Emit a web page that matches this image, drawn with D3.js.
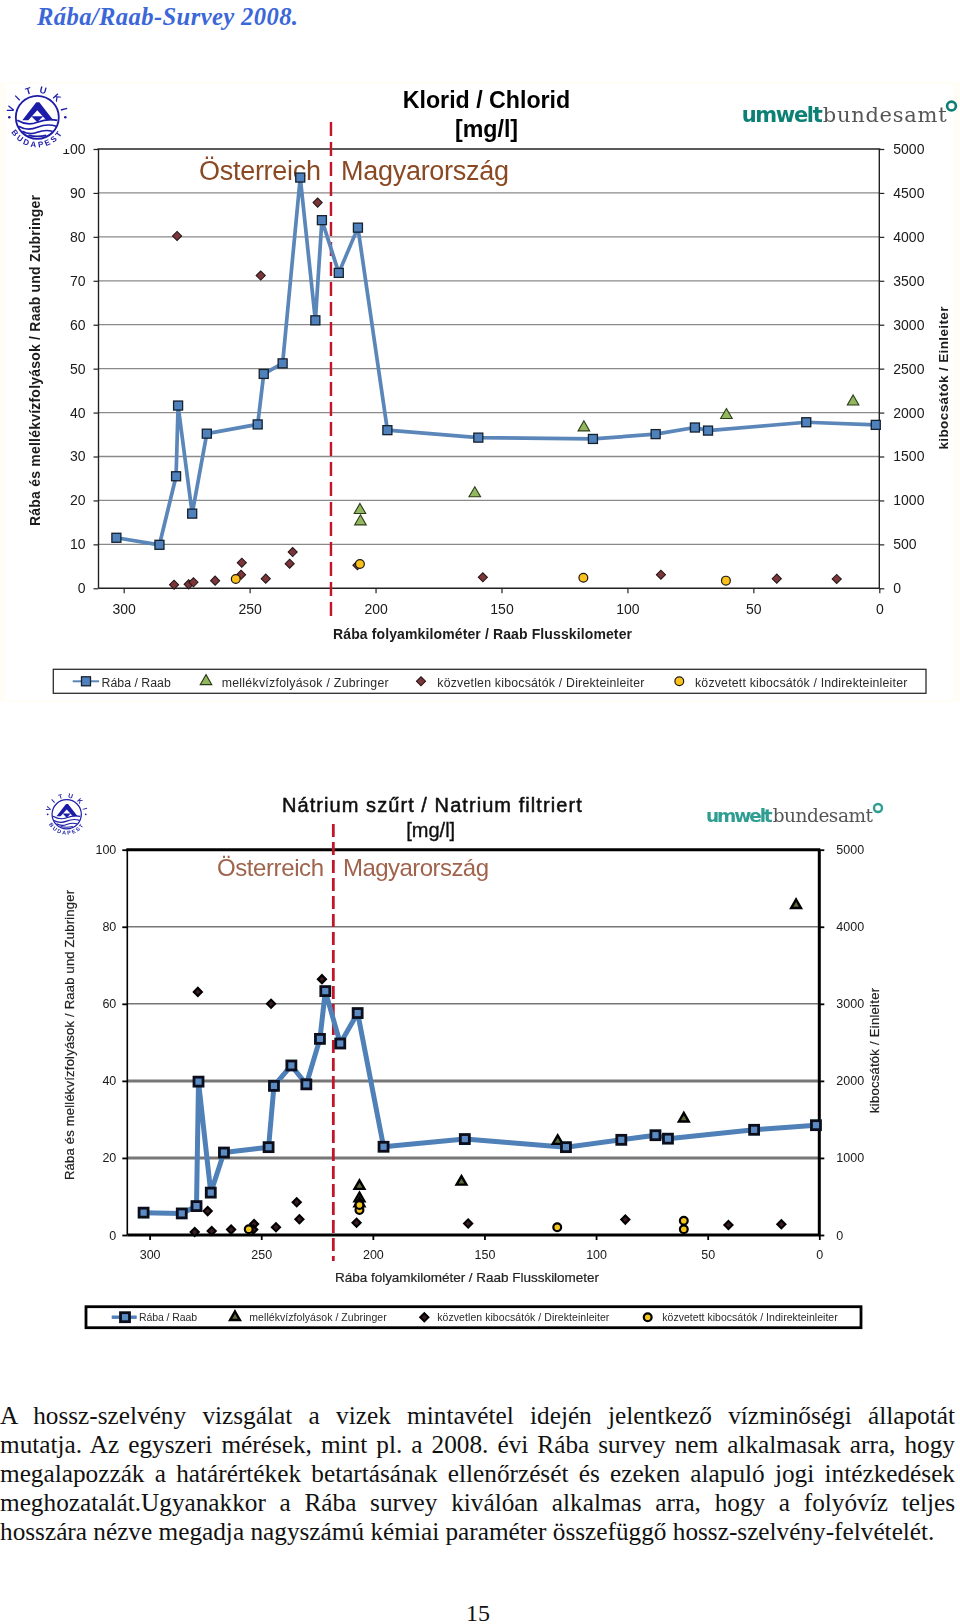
<!DOCTYPE html>
<html><head><meta charset="utf-8">
<script src="https://cdn.jsdelivr.net/npm/d3@7"></script>
<style>html,body{margin:0;padding:0;background:#fff}svg{display:block}text{font-family:"Liberation Sans",Arial,sans-serif}</style>
</head><body><div id="c"></div>
<script>
// ---------- data: [river km, value] ----------
const leftTicks = [0,10,20,30,40,50,60,70,80,90,100];
const rightTicks = [0,500,1000,1500,2000,2500,3000,3500,4000,4500,5000];
const leftTicks2 = [0,20,40,60,80,100];
const rightTicks2 = [0,1000,2000,3000,4000,5000];
const kmTicks = [300,250,200,150,100,50,0];
const borderKm = 217.7;

const chlorRaba = [[302.9,11.5],[285.8,9.9],[279.2,25.5],[278.4,41.6],[272.8,17],[267,35.2],[246.8,37.3],[244.4,48.8],[236.9,51.2],[229.9,93.5],[223.9,61],[221.3,83.8],[214.6,71.8],[207,82.1],[195.3,36],[159.2,34.3],[113.7,34],[88.8,35.1],[73.2,36.6],[68,35.9],[29,37.8],[1.4,37.2]];
const chlorTrib = [[206.2,17.8],[206,15.2],[160.6,21.6],[117.3,36.6],[60.7,39.4],[10.4,42.5]];
const chlorDirect = [[278.8,4010],[245.6,3560],[223,4390],[280,41],[274.2,45],[272.3,68],[263.7,87],[253.4,155],[253.1,291],[243.6,110],[234.1,280],[232.9,413],[207.2,262],[157.4,125],[86.7,155],[40.7,110],[16.9,106]];
const chlorIndirect = [[255.5,106],[206.2,277],[117.5,120],[60.9,87]];

const naRaba = [[302.7,5.8],[285.6,5.6],[279,7.5],[278.1,39.8],[272.6,11],[266.7,21.4],[246.7,22.8],[244.3,38.7],[236.5,44],[229.8,39.1],[223.7,50.9],[221.3,63.3],[214.6,49.7],[206.8,57.6],[195.2,22.9],[158.8,24.9],[113.5,22.8],[88.7,24.7],[73.4,25.9],[67.8,25],[29.2,27.3],[1.5,28.5]];
const naTrib = [[206,12.7],[206,9.5],[206,8.2],[160.3,13.8],[117.2,24.4],[60.7,30.2],[10.4,85.6]];
const naDirect = [[278.4,3155],[245.6,3000],[222.8,3320],[279.8,40],[274,310],[272.2,52],[263.5,70],[253.2,142],[253.6,70],[243.4,100],[234.1,425],[232.9,205],[207.3,160],[157.3,150],[86.9,200],[40.7,130],[17,140]];
const naIndirect = [[255.6,75],[206,325],[206,390],[117.4,100],[60.7,185],[60.7,75]];

const titleText = "Rába/Raab-Survey 2008.";
const bodyLines = [
 "A hossz-szelvény vizsgálat a vizek mintavétel idején jelentkező vízminőségi állapotát",
 "mutatja. Az egyszeri mérések, mint pl. a 2008. évi Rába survey nem alkalmasak arra, hogy",
 "megalapozzák a határértékek betartásának ellenőrzését és ezeken alapuló jogi intézkedések",
 "meghozatalát.Ugyanakkor a Rába survey kiválóan alkalmas arra, hogy a folyóvíz teljes",
 "hosszára nézve megadja nagyszámú kémiai paraméter összefüggő hossz-szelvény-felvételét."
];
const leftTitle = "Rába és mellékvízfolyások / Raab und Zubringer";
const rightTitle = "kibocsátók / Einleiter";
const xTitle = "Rába folyamkilométer / Raab Flusskilometer";
const legendLabels = ["Rába / Raab","mellékvízfolyások / Zubringer","közvetlen kibocsátók / Direkteinleiter","közvetett kibocsátók / Indirekteinleiter"];

const svg = d3.select("#c").append("svg").attr("width",960).attr("height",1624).attr("viewBox","0 0 960 1624");
const defs = svg.append("defs");
defs.append("filter").attr("id","soft").attr("x","-2%").attr("y","-2%").attr("width","104%").attr("height","104%").append("feGaussianBlur").attr("stdDeviation",0.25);
defs.append("filter").attr("id","soft2").attr("x","-2%").attr("y","-2%").attr("width","104%").attr("height","104%").append("feGaussianBlur").attr("stdDeviation",0.4);

// page furniture
svg.append("rect").attr("width",960).attr("height",1624).attr("fill","#fff");
svg.append("rect").attr("x",0).attr("y",82).attr("width",960).attr("height",620).attr("fill","#fffdf6");
svg.append("rect").attr("x",6).attr("y",84).attr("width",947).attr("height",616).attr("fill","#fff");
svg.append("text").attr("x",37).attr("y",25).text(titleText)
  .style("font-family","'Liberation Serif',serif").style("font-weight","bold").style("font-style","italic")
  .style("font-size","24.6px").attr("fill","#3b67d8").attr("textLength",261);

function txt(g,s,x,y,o={}){
  const t=g.append("text").attr("x",x).attr("y",y).text(s)
    .style("font-size",(o.size||14)+"px").style("font-weight",o.weight||"normal")
    .attr("fill",o.fill||"#1a1a1a").attr("text-anchor",o.anchor||"start");
  if(o.len) t.attr("textLength",o.len);
  if(o.stroke) t.attr("stroke",o.fill||"#1a1a1a").attr("stroke-width",o.stroke);
  if(o.rot) t.attr("transform",`rotate(${o.rot} ${x} ${y})`);
  return t;
}

function vituki(g,cx,cy,s,uid){
  const n=g.append("g").attr("transform",`translate(${cx},${cy}) scale(${s})`);
  const navy="#1c1ca8";
  n.append("circle").attr("r",21.5).attr("fill","#fff").attr("stroke",navy).attr("stroke-width",1.8);
  n.append("path").attr("d","M-15,3 L-1,-15 L2,-15 L16,3 L9,3 L0,-7 L-9,3 Z").attr("fill",navy);
  n.append("path").attr("d","M-6,-1 L6,-1 L0,5 Z").attr("fill",navy);
  ["M-20,3 Q-10,9 0,5 T20,3","M-19,9 Q-10,14 0,10 T19,9","M-15,14 Q-8,18 0,15 T15,14","M-9,18 Q0,20 9,18"].forEach(d=>
    n.append("path").attr("d",d).attr("fill","none").attr("stroke",navy).attr("stroke-width",1.7));
  defs.append("path").attr("id","top"+uid).attr("d","M-24.5,0 A24.5,24.5 0 0 1 24.5,0");
  defs.append("path").attr("id","bot"+uid).attr("d","M-30,0 A30,30 0 0 0 30,0");
  n.append("text").append("textPath").attr("href","#top"+uid).attr("startOffset","50%").attr("text-anchor","middle").text("V I T U K I")
    .style("font-size","9.5px").style("font-weight","bold").style("letter-spacing","2.2px").attr("fill",navy);
  n.append("text").append("textPath").attr("href","#bot"+uid).attr("startOffset","50%").attr("text-anchor","middle").text("BUDAPEST")
    .style("font-size","8px").style("font-weight","bold").style("letter-spacing","2.4px").attr("fill",navy);
  [-28,28].forEach(x=>n.append("circle").attr("cx",x).attr("cy",0).attr("r",1.3).attr("fill",navy));
}

function umwelt(g,o){
  g.append("text").attr("x",o.x).attr("y",o.y).text("umwelt").attr("textLength",o.w1)
    .style("font-family","'DejaVu Sans',sans-serif").style("font-weight","bold").style("font-size",o.size+"px").attr("fill",o.teal);
  g.append("text").attr("x",o.x+o.w1).attr("y",o.y).text("bundesamt").attr("textLength",o.w2)
    .style("font-family","'DejaVu Serif',serif").style("font-size",o.size+"px").attr("fill","#555");
  g.append("circle").attr("cx",o.cx).attr("cy",o.cy).attr("r",o.r).attr("fill","none").attr("stroke",o.teal).attr("stroke-width",o.r*0.6);
}

function chart(c){
  const g=svg.append("g").attr("filter",`url(#${c.filter})`);
  const x=d3.scaleLinear().domain([310,0]).range([c.l,c.r]);
  const y=d3.scaleLinear().domain([0,100]).range([c.b,c.t]);
  const y2=d3.scaleLinear().domain([0,5000]).range([c.b,c.t]);

  // gridlines
  g.append("g").selectAll("line").data(c.lTicks.filter(d=>d>0&&d<100)).join("line")
    .attr("x1",c.l).attr("x2",c.r).attr("y1",d=>y(d)).attr("y2",d=>y(d))
    .attr("stroke",c.grid).attr("stroke-width",d=>c.thick&&c.thick.includes(d)?3:c.gridW);
  g.append("line").attr("x1",c.l-1).attr("x2",c.r+1).attr("y1",c.t).attr("y2",c.t).attr("stroke",c.axis).attr("stroke-width",c.topW);

  // axes
  const fmt=d3.format("d");
  const la=g.append("g").attr("transform",`translate(${c.l},0)`).call(d3.axisLeft(y).tickValues(c.lTicks).tickSize(c.tick).tickPadding(c.pad).tickFormat(fmt));
  const ra=g.append("g").attr("transform",`translate(${c.r},0)`).call(d3.axisRight(y2).tickValues(c.rTicks).tickSize(c.tick).tickPadding(c.padR).tickFormat(fmt));
  const ba=g.append("g").attr("transform",`translate(0,${c.b})`).call(d3.axisBottom(x).tickValues(kmTicks).tickSize(c.tick).tickPadding(c.padB).tickFormat(fmt));
  [la,ra,ba].forEach(a=>{a.attr("font-family",null).attr("font-size",null);
    a.selectAll("text").style("font-size",c.tickFont+"px").attr("fill","#1a1a1a");
    a.selectAll("line").attr("stroke",c.axis).attr("stroke-width",c.tickW);});
  la.select(".domain").attr("stroke",c.axis).attr("stroke-width",c.lW).attr("d",`M0,${c.t}V${c.b}`);
  ra.select(".domain").attr("stroke",c.axis).attr("stroke-width",c.rW).attr("d",`M0,${c.t}V${c.b}`);
  ba.select(".domain").attr("stroke",c.axis).attr("stroke-width",c.bW).attr("d",`M${c.l},0H${c.r}`);

  // titles
  c.title.forEach(t=>txt(g,t.s,t.x,t.y,t));
  txt(g,"Österreich",c.at.x,c.at.y,{size:c.at.size,fill:c.at.fill,len:c.at.len});
  txt(g,"Magyarország",c.hu.x,c.hu.y,{size:c.hu.size,fill:c.hu.fill,len:c.hu.len});
  txt(g,leftTitle,c.lt.x,c.lt.y,{...c.lt,rot:-90,anchor:"middle"});
  txt(g,rightTitle,c.rt.x,c.rt.y,{...c.rt,rot:-90,anchor:"middle"});
  txt(g,xTitle,c.xt.x,c.xt.y,c.xt);

  // border line
  g.append("line").attr("x1",x(borderKm)).attr("x2",x(borderKm)).attr("y1",c.bt).attr("y2",c.bb)
    .attr("stroke","#c1182c").attr("stroke-width",c.borderW).attr("stroke-dasharray",c.dash);

  const m=c.mark;
  const line=d3.line().x(d=>x(d[0])).y(d=>y(d[1]));
  g.append("path").datum(c.raba).attr("d",line).attr("fill","none").attr("stroke",m.line).attr("stroke-width",m.lineW).attr("stroke-linejoin","round");

  const tri=d3.symbol().type(d3.symbolTriangle).size(m.triSize)();
  const dia=d3.symbol().type(d3.symbolSquare).size(m.diaSize)();
  const drawTri=(sel)=>sel.attr("d",tri).attr("fill",m.triFill).attr("stroke",m.triStroke).attr("stroke-width",m.triW);
  const drawDia=(sel)=>sel.attr("d",dia).attr("fill",m.diaFill).attr("stroke",m.diaStroke).attr("stroke-width",m.diaW);
  const drawSq=(sel)=>sel.attr("fill",m.sqFill).attr("stroke",m.sqStroke).attr("stroke-width",m.sqW).attr("width",m.sq).attr("height",m.sq);
  const drawCirc=(sel)=>sel.attr("r",m.r).attr("fill",m.cFill).attr("stroke",m.cStroke).attr("stroke-width",m.cW);

  g.append("g").selectAll("path").data(c.trib).join("path").call(drawTri).attr("transform",d=>`translate(${x(d[0])},${y(d[1])})`);
  g.append("g").selectAll("path").data(c.direct).join("path").call(drawDia).attr("transform",d=>`translate(${x(d[0])},${y2(d[1])}) rotate(45)`);
  g.append("g").selectAll("circle").data(c.indirect).join("circle").call(drawCirc).attr("cx",d=>x(d[0])).attr("cy",d=>y2(d[1]));
  g.append("g").selectAll("rect").data(c.raba).join("rect").call(drawSq).attr("x",d=>x(d[0])-m.sq/2).attr("y",d=>y(d[1])-m.sq/2);

  // legend
  const L=c.legend;
  g.append("rect").attr("x",L.x0).attr("y",L.y0).attr("width",L.x1-L.x0).attr("height",L.y1-L.y0).attr("fill","#fff").attr("stroke",c.axis==="#000"?"#000":"#2d2d2d").attr("stroke-width",L.w);
  const ly=(L.y0+L.y1)/2;
  g.append("line").attr("x1",L.line[0]).attr("x2",L.line[1]).attr("y1",ly).attr("y2",ly).attr("stroke",m.line).attr("stroke-width",L.lineW);
  g.append("rect").call(drawSq).attr("x",L.marks[0]-m.sq/2).attr("y",ly-m.sq/2);
  g.append("path").call(drawTri).attr("transform",`translate(${L.marks[1]},${ly})`);
  g.append("path").call(drawDia).attr("transform",`translate(${L.marks[2]},${ly}) rotate(45)`);
  g.append("circle").call(drawCirc).attr("cx",L.marks[3]).attr("cy",ly);
  legendLabels.forEach((s,i)=>txt(g,s,L.tx[i],L.base,{size:L.size,len:L.tw[i],fill:"#2a2a2a"}));

  // logos
  if(c.mask) g.append("rect").attr("x",c.mask[0]).attr("y",c.mask[1]).attr("width",c.mask[2]).attr("height",c.mask[3]).attr("fill","#fff");
  vituki(g,c.vit.x,c.vit.y,c.vit.s,c.vit.id);
  umwelt(g,c.umw);
}

chart({
  filter:"soft",l:98.5,r:879.3,t:149,b:588.3,axis:"#222",lTicks:leftTicks,rTicks:rightTicks,thick:null,grid:"#8a8a8a",gridW:1.3,
  tick:5,pad:8,padR:9,padB:11,tickFont:14,tickW:1.2,lW:1.4,rW:1.4,bW:1.6,topW:1.6,
  raba:chlorRaba,trib:chlorTrib,direct:chlorDirect,indirect:chlorIndirect,
  title:[{s:"Klorid / Chlorid",x:486.5,y:108,anchor:"middle",size:23.2,weight:"bold",fill:"#000"},{s:"[mg/l]",x:486.5,y:137,anchor:"middle",size:23.2,weight:"bold",fill:"#000"}],
  at:{x:199,y:180,size:27,fill:"#8a4a24",len:122},hu:{x:341,y:180,size:27,fill:"#8a4a24",len:168},
  lt:{x:40,y:360.5,size:14,weight:"bold",len:331},rt:{x:948,y:378,size:13.5,weight:"bold",len:143},
  xt:{x:333,y:639,size:14,weight:"bold",len:299},
  bt:122,bb:616,borderW:2.4,dash:"14 6",
  mark:{line:"#5a86b9",lineW:3.7,sq:9,sqFill:"#4f81bd",sqStroke:"#15202e",sqW:1.3,
    triSize:58,triFill:"#92b75e",triStroke:"#2c3d18",triW:1.1,diaSize:42,diaFill:"#7b3438",diaStroke:"#1f1416",diaW:1,
    r:4.4,cFill:"#fcc01a",cStroke:"#1e1a10",cW:1.2},
  legend:{x0:53.3,x1:926,y0:669.3,y1:693.3,w:1.3,lineW:2,line:[72.7,99],marks:[86,206,421,679.3],base:686.6,size:12.3,
    tx:[101.5,221.7,437.3,695],tw:[69.3,167,207,212.3]},
  mask:[6,84,62,65],vit:{x:37.3,y:117.3,s:1,id:"a"},
  umw:{x:741.7,y:121.5,size:21,w1:81,w2:124,cx:951.5,cy:106,r:4.4,teal:"#0f8074"}
});

chart({
  filter:"soft2",l:127.3,r:819.3,t:849.7,b:1235,axis:"#000",lTicks:leftTicks2,rTicks:rightTicks2,thick:[20,40],grid:"#777",gridW:1.5,
  tick:5,pad:6,padR:12,padB:10,tickFont:12.5,tickW:1.8,lW:1.6,rW:3,bW:2.8,topW:3,
  raba:naRaba,trib:naTrib,direct:naDirect,indirect:naIndirect,
  title:[{s:"Nátrium szűrt / Natrium filtriert",x:282,y:812.3,size:20,fill:"#111",stroke:0.5,len:299.7},{s:"[mg/l]",x:430.7,y:837,anchor:"middle",size:20,fill:"#111",stroke:0.35}],
  at:{x:217,y:876,size:24,fill:"#a0644c",len:107},hu:{x:343,y:876,size:24,fill:"#a0644c",len:146},
  lt:{x:74,y:1035,size:13,len:290,fill:"#222",stroke:0.2},rt:{x:879,y:1050.5,size:13,len:125,fill:"#222",stroke:0.2},
  xt:{x:335,y:1281.7,size:13.5,len:264,fill:"#222",stroke:0.2},
  bt:824,bb:1261,borderW:2.8,dash:"13 5",
  mark:{line:"#4f80b7",lineW:5,sq:9,sqFill:"#5b8bc4",sqStroke:"#07101c",sqW:2.8,
    triSize:42,triFill:"#5d6b3a",triStroke:"#000",triW:2.4,diaSize:34,diaFill:"#3a1a20",diaStroke:"#000",diaW:2,
    r:3.9,cFill:"#f2c41c",cStroke:"#000",cW:2.2},
  legend:{x0:86,x1:861,y0:1306.7,y1:1327.7,w:2.8,lineW:3.4,line:[111.7,136.7],marks:[125,235,424.3,647.7],base:1320.8,size:10.5,
    tx:[139,249.3,437.3,662.3],tw:[58,137.4,172,175.4]},
  vit:{x:66.7,y:814.3,s:0.68,id:"b"},
  umw:{x:706,y:822,size:18.5,w1:66.7,w2:100.3,cx:878,cy:808,r:4,teal:"#2f9d92"}
});

// body text, justified between x=0 and x=955
const serif="'Liberation Serif',serif";
const bodyG=svg.append("g");
const probe=bodyG.append("text").style("font-family",serif).style("font-size","24px").text(bodyLines[4]);
const bodySize=24*935/probe.node().getComputedTextLength();
probe.remove();
const baselines=[1424,1453,1482,1511,1540.3];
bodyLines.forEach((s,i)=>{
  const t=bodyG.append("text").attr("x",0).attr("y",baselines[i]).text(s).style("font-family",serif).style("font-size",bodySize+"px").attr("fill","#111");
  if(i<4){
    const w=t.node().getComputedTextLength(), gaps=s.split(" ").length-1;
    t.style("word-spacing",((955-w)/gaps)+"px");
  }
});
bodyG.append("text").attr("x",466).attr("y",1620.5).text("15").style("font-family",serif).style("font-size","24px").attr("fill","#111");
</script></body></html>
